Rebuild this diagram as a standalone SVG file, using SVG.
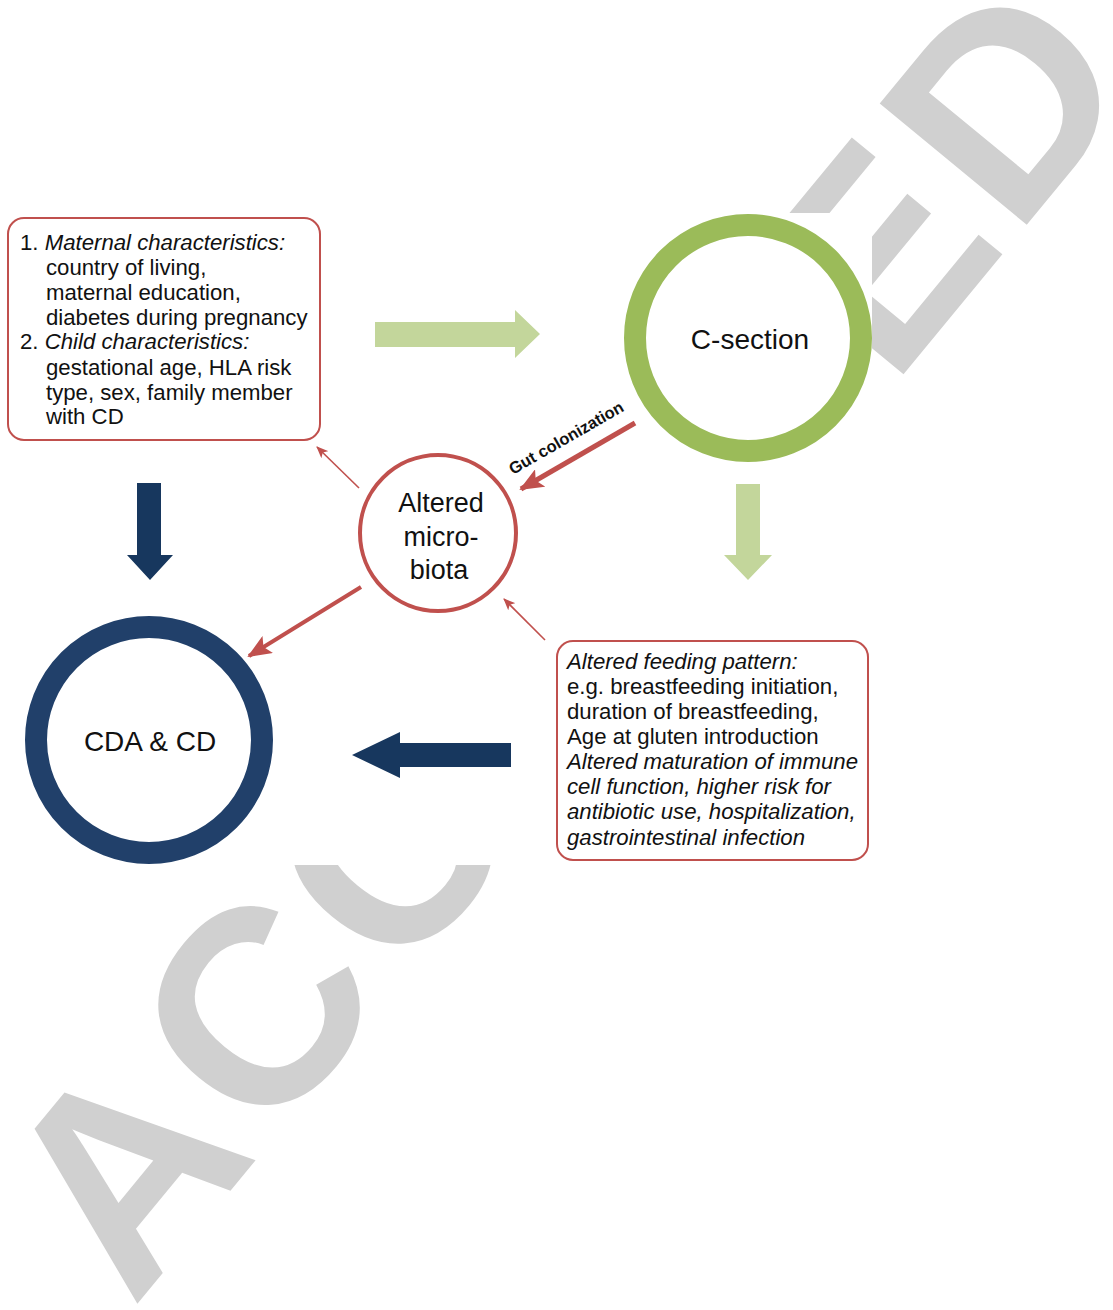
<svg xmlns="http://www.w3.org/2000/svg" width="1113" height="1310" viewBox="0 0 1113 1310">
<style>
text{font-family:"Liberation Sans",Arial,sans-serif;fill:#111}
.box{fill:#fff;stroke:#c0504d;stroke-width:2}
.bt{font-size:22.2px}
.it{font-style:italic}
.ctr{text-anchor:middle}
.red{stroke:#c0504d;fill:none}
.wm{font-size:277px;font-weight:bold;fill:#d0d0d0;letter-spacing:9px}
</style>
<defs>
<marker id="hBig" markerUnits="userSpaceOnUse" viewBox="0 0 24 20" refX="22" refY="10" markerWidth="24" markerHeight="20" orient="auto"><path d="M0,0 L24,10 L0,20 L5,10 Z" fill="#c0504d"/></marker>
<marker id="hSmall" markerUnits="userSpaceOnUse" viewBox="0 0 12 10" refX="11" refY="5" markerWidth="12" markerHeight="10" orient="auto"><path d="M0,0 L12,5 L0,10 L3,5 Z" fill="#c0504d"/></marker>
</defs>
<rect width="1113" height="1310" fill="#fff"/>
<text class="wm" transform="translate(133,1309) rotate(-50.5)">ACCEPTED</text>
<rect x="0" y="213" width="872" height="652" fill="#fff"/>

<g id="connectors">
<path d="M375,322 H515 V310 L540,334 L515,358 V347 H375 Z" fill="#c3d69b"/>
<path d="M736,484 H760 V555 H772 L748,580 L724,555 H736 Z" fill="#c3d69b"/>
<path d="M137,483 H161 V555 H173 L150,580 L127,555 H137 Z" fill="#17375e"/>
<path d="M511,743 V767 H400 V778 L352,755 L400,732 V743 Z" fill="#17375e"/>
<line class="red" x1="635" y1="423" x2="521" y2="489" stroke-width="5" marker-end="url(#hBig)"/>
<text transform="translate(513,475) rotate(-30)" font-size="16.5" font-weight="bold">Gut colonization</text>
<line class="red" x1="361" y1="587" x2="249" y2="656" stroke-width="4" marker-end="url(#hBig)"/>
<line class="red" x1="359" y1="488" x2="317" y2="447" stroke-width="1.6" marker-end="url(#hSmall)"/>
<line class="red" x1="545" y1="640" x2="504" y2="599" stroke-width="1.6" marker-end="url(#hSmall)"/>
</g>

<g id="factors">
<rect class="box" x="8" y="218" width="312" height="222" rx="16"/>
<text class="bt" x="20" y="250">1. <tspan class="it">Maternal characteristics:</tspan></text>
<text class="bt" x="46" y="275">country of living,</text>
<text class="bt" x="46" y="300">maternal education,</text>
<text class="bt" x="46" y="325">diabetes during pregnancy</text>
<text class="bt" x="20" y="349">2. <tspan class="it">Child characteristics:</tspan></text>
<text class="bt" x="46" y="375">gestational age, HLA risk</text>
<text class="bt" x="46" y="400">type, sex, family member</text>
<text class="bt" x="46" y="424">with CD</text>
</g>

<g id="csection">
<circle cx="748" cy="338" r="113" fill="#fff" stroke="#9bbb59" stroke-width="22"/>
<text class="ctr" x="750" y="349" font-size="28">C-section</text>
</g>

<g id="microbiota">
<circle cx="438" cy="533" r="78" fill="#fff" stroke="#c0504d" stroke-width="4"/>
<text class="ctr" x="441" y="512" font-size="27">Altered</text>
<text class="ctr" x="441" y="546" font-size="27">micro-</text>
<text class="ctr" x="439" y="579" font-size="27">biota</text>
</g>

<g id="feeding">
<rect class="box" x="557" y="641" width="311" height="219" rx="16"/>
<text class="bt it" x="567" y="669">Altered feeding pattern:</text>
<text class="bt" x="567" y="694">e.g. breastfeeding initiation,</text>
<text class="bt" x="567" y="719">duration of breastfeeding,</text>
<text class="bt" x="567" y="744">Age at gluten introduction</text>
<text class="bt it" x="567" y="769">Altered maturation of immune</text>
<text class="bt it" x="567" y="794">cell function, higher risk for</text>
<text class="bt it" x="567" y="819">antibiotic use, hospitalization,</text>
<text class="bt it" x="567" y="845">gastrointestinal infection</text>
</g>

<g id="cdacd">
<circle cx="149" cy="740" r="113" fill="#fff" stroke="#21406a" stroke-width="22"/>
<text class="ctr" x="150" y="751" font-size="28">CDA &amp; CD</text>
</g>
</svg>
